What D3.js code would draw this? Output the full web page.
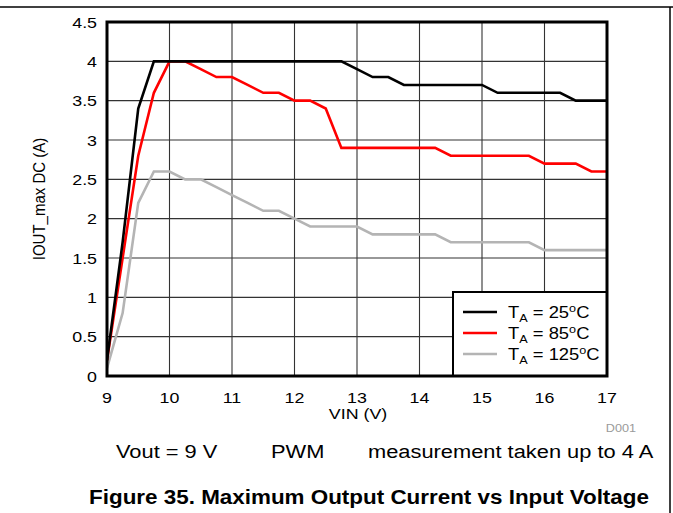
<!DOCTYPE html>
<html>
<head>
<meta charset="utf-8">
<script src="https://cdn.jsdelivr.net/npm/d3@7"></script>
<style>
  html, body { margin: 0; padding: 0; background: #fff; }
  svg { display: block; }
  text { font-family: "Liberation Sans", Arial, sans-serif; fill: #000; }
</style>
</head>
<body>
<svg id="chart" width="673" height="513"></svg>
<script>
// ---- Data ----
const vin = [9, 9.25, 9.5, 9.75, 10, 10.25, 10.5, 10.75, 11, 11.25, 11.5, 11.75, 12, 12.25, 12.5, 12.75,
             13, 13.25, 13.5, 13.75, 14, 14.25, 14.5, 14.75, 15, 15.25, 15.5, 15.75, 16, 16.25, 16.5, 16.75, 17];
const ta25 = [0.2, 1.7, 3.4, 4.0, 4.0, 4.0, 4.0, 4.0, 4.0, 4.0, 4.0, 4.0, 4.0, 4.0, 4.0, 4.0,
              3.9, 3.8, 3.8, 3.7, 3.7, 3.7, 3.7, 3.7, 3.7, 3.6, 3.6, 3.6, 3.6, 3.6, 3.5, 3.5, 3.5];
const ta85 = [0.2, 1.5, 2.8, 3.6, 4.0, 4.0, 3.9, 3.8, 3.8, 3.7, 3.6, 3.6, 3.5, 3.5, 3.4, 2.9,
              2.9, 2.9, 2.9, 2.9, 2.9, 2.9, 2.8, 2.8, 2.8, 2.8, 2.8, 2.8, 2.7, 2.7, 2.7, 2.6, 2.6];
const ta125 = [0.1, 0.8, 2.2, 2.6, 2.6, 2.5, 2.5, 2.4, 2.3, 2.2, 2.1, 2.1, 2.0, 1.9, 1.9, 1.9,
               1.9, 1.8, 1.8, 1.8, 1.8, 1.8, 1.7, 1.7, 1.7, 1.7, 1.7, 1.7, 1.6, 1.6, 1.6, 1.6, 1.6];
const seriesNames = ["25", "85", "125"];
const seriesColors = ["#000000", "#ff0000", "#b4b4b4"];
const xTicks = [9, 10, 11, 12, 13, 14, 15, 16, 17];
const yTicks = [0, 0.5, 1, 1.5, 2, 2.5, 3, 3.5, 4, 4.5];
const yTickLabels = ["0", "0.5", "1", "1.5", "2", "2.5", "3", "3.5", "4", "4.5"];
const xTitle = "VIN (V)";
const yTitle = "IOUT_max DC (A)";
const noteTexts = ["Vout = 9 V", "PWM", "measurement taken up to 4 A"];
const figTitle = "Figure 35. Maximum Output Current vs Input Voltage";
const codeText = "D001";

// ---- Layout ----
const SX = 1.15; // horizontal stretch of the original text
const L = 107, R = 607, T = 22, B = 376;
const svg = d3.select("#chart");
const x = d3.scaleLinear().domain([9, 17]).range([L, R]);
const y = d3.scaleLinear().domain([0, 4.5]).range([B, T]);

function stext(g, px, py, str, size, anchor, opts = {}) {
  return g.append("text")
    .attr("transform", `translate(${px},${py}) scale(${SX},1)`)
    .attr("text-anchor", anchor)
    .style("font-size", size + "px")
    .style("font-weight", opts.bold ? "bold" : "normal")
    .style("fill", opts.fill || "#000")
    .text(str);
}

// outer frame lines
svg.append("line").attr("x1", 0).attr("x2", 673).attr("y1", 7).attr("y2", 7)
  .attr("stroke", "#000").attr("stroke-width", 1.5);
svg.append("line").attr("x1", 670).attr("x2", 670).attr("y1", 7).attr("y2", 513)
  .attr("stroke", "#000").attr("stroke-width", 1.5);

// grid
const grid = svg.append("g");
grid.selectAll("line.v").data(xTicks.slice(1, -1)).join("line")
  .attr("x1", d => x(d)).attr("x2", d => x(d)).attr("y1", T).attr("y2", B)
  .attr("stroke", "#333").attr("stroke-width", 1.1);
grid.selectAll("line.h").data(yTicks.slice(1, -1)).join("line")
  .attr("x1", L).attr("x2", R).attr("y1", d => y(d)).attr("y2", d => y(d))
  .attr("stroke", "#333").attr("stroke-width", 1.1);

// series
const allSeries = [ta25, ta85, ta125];
const line = d3.line().x((d, i) => x(vin[i])).y(d => y(d));
const clip = svg.append("clipPath").attr("id", "clip").append("rect")
  .attr("x", L).attr("y", T - 2).attr("width", R - L).attr("height", B - T + 2);
const sg = svg.append("g").attr("clip-path", "url(#clip)");
[2, 1, 0].forEach(k => {
  sg.append("path").datum(allSeries[k])
    .attr("d", line)
    .attr("fill", "none")
    .attr("stroke", seriesColors[k])
    .attr("stroke-width", 2.6)
    .attr("stroke-linejoin", "miter");
});

// legend
const lg = svg.append("g");
lg.append("rect").attr("x", 453).attr("y", 292).attr("width", R - 453).attr("height", B - 292)
  .attr("fill", "#fff").attr("stroke", "#000").attr("stroke-width", 2);
seriesNames.forEach((nm, i) => {
  const ly = 312 + i * 21;
  lg.append("line").attr("x1", 463).attr("x2", 497).attr("y1", ly).attr("y2", ly)
    .attr("stroke", seriesColors[i]).attr("stroke-width", 2.6);
  const t = lg.append("text")
    .attr("transform", `translate(508,${ly + 6}) scale(${SX},1)`)
    .style("font-size", "16px");
  t.append("tspan").text("T");
  t.append("tspan").attr("dy", 4).style("font-size", "11px").text("A");
  t.append("tspan").attr("dy", -4).text(" = " + nm);
  t.append("tspan").attr("dy", -6).style("font-size", "11px").text("o");
  t.append("tspan").attr("dy", 6).text("C");
});

// frame
svg.append("rect").attr("x", L).attr("y", T).attr("width", R - L).attr("height", B - T)
  .attr("fill", "none").attr("stroke", "#000").attr("stroke-width", 3);

// axis labels
const ax = svg.append("g");
yTicks.forEach((v, i) => stext(ax, 97, y(v) + 5.5, yTickLabels[i], 15.5, "end"));
xTicks.forEach(v => stext(ax, x(v), 403, String(v), 15.5, "middle"));
stext(ax, 358, 419, xTitle, 15.5, "middle");
ax.append("text")
  .attr("transform", `translate(45,${(T + B) / 2}) rotate(-90) scale(1,${SX})`)
  .attr("text-anchor", "middle")
  .style("font-size", "15px")
  .text(yTitle);
stext(ax, 636, 432, codeText, 11, "end", { fill: "#9a9a9a" });

// notes and title
stext(svg, 116, 458, noteTexts[0], 19, "start");
stext(svg, 271, 458, noteTexts[1], 19, "start");
stext(svg, 368, 458, noteTexts[2], 19, "start");
stext(svg, 369, 504, figTitle, 19.5, "middle", { bold: true });
</script>
</body>
</html>
